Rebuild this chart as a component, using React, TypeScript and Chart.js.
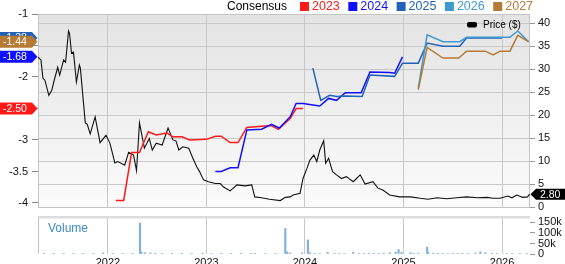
import React, { useEffect, useRef } from 'react';
import { Chart, registerables } from 'chart.js';

Chart.register(...registerables);

const FONT = '"Liberation Sans", Arial, Helvetica, sans-serif';

// ---- axes / ticks ----
const X_MIN = 2021.29;
const X_MAX = 2026.284;
const yearTicks = [2022, 2023, 2024, 2025, 2026];
const epsTicks = [-1, -1.5, -2, -2.5, -3, -3.5, -4];
const EPS_MIN = -4.0635;
const EPS_MAX = -1;
const priceTicks = [0, 5, 10, 15, 20, 25, 30, 35, 40];
const PRICE_MAX = 42;
const volTicks = [0, 50000, 100000, 150000];
const VOL_MAX = 176000;

// ---- price ($) ----
const priceX = [
  2021.29, 2021.32, 2021.34, 2021.36, 2021.40, 2021.43, 2021.45, 2021.49, 2021.51, 2021.55,
  2021.57, 2021.60, 2021.61, 2021.63, 2021.65, 2021.68, 2021.71, 2021.72, 2021.77, 2021.79,
  2021.82, 2021.87, 2021.92, 2021.98, 2022.02, 2022.07, 2022.10, 2022.17, 2022.21, 2022.26,
  2022.29, 2022.32, 2022.37, 2022.42, 2022.45, 2022.49, 2022.55, 2022.61, 2022.66, 2022.69,
  2022.72, 2022.76, 2022.82, 2022.86, 2022.90, 2022.93, 2022.97, 2023.02, 2023.09, 2023.14,
  2023.17, 2023.24, 2023.31, 2023.39, 2023.46, 2023.49, 2023.56, 2023.64, 2023.75, 2023.80,
  2023.85, 2023.88, 2023.95, 2023.98, 2024.02, 2024.05, 2024.09, 2024.12, 2024.15, 2024.19,
  2024.21, 2024.24, 2024.28, 2024.32, 2024.37, 2024.42, 2024.49, 2024.56, 2024.61, 2024.69,
  2024.74, 2024.79, 2024.86, 2024.96, 2025.07, 2025.17, 2025.25, 2025.34, 2025.44, 2025.54,
  2025.64, 2025.75, 2025.85, 2025.91, 2025.98, 2026.06, 2026.10, 2026.15, 2026.21, 2026.26,
  2026.28,
];
const priceY = [
  32.6, 32.0, 28.0, 27.6, 24.3, 25.4, 27.2, 30.4, 28.7, 32.0,
  31.5, 38.3, 37.8, 33.5, 33.7, 27.2, 30.9, 30.2, 18.3, 18.0,
  15.9, 19.6, 14.0, 15.6, 13.9, 9.6, 9.9, 9.1, 11.9, 11.3,
  7.9, 18.3, 12.8, 14.9, 12.4, 13.9, 13.5, 17.2, 14.6, 14.4,
  12.4, 13.1, 12.8, 10.7, 8.8, 7.7, 5.9, 5.5, 5.1, 5.1,
  4.4, 3.5, 4.8, 4.6, 4.8, 2.2, 2.0, 1.7, 1.4, 2.1,
  2.2, 2.6, 3.0, 6.2, 8.4, 10.2, 11.3, 9.9, 12.4, 14.4,
  9.5, 10.6, 7.7, 7.0, 6.2, 6.6, 5.5, 7.0, 5.0, 5.5,
  4.1, 3.7, 2.6, 2.2, 2.2, 1.9, 1.7, 2.0, 1.8, 2.0,
  2.2, 2.0, 2.1, 1.9, 1.9, 2.4, 2.0, 2.6, 2.1, 2.2,
  2.8,
];

// ---- consensus EPS by fiscal year ----
const eps2023X = [2022.08, 2022.16, 2022.24, 2022.32, 2022.41, 2022.49, 2022.60, 2022.66, 2022.75, 2022.83, 2023.00, 2023.09, 2023.15, 2023.24, 2023.32, 2023.41, 2023.56, 2023.66, 2023.73, 2023.85, 2023.91, 2023.98];
const eps2023Y = [-3.96, -3.96, -3.20, -3.20, -2.87, -2.92, -2.89, -2.95, -2.95, -3.00, -2.99, -2.94, -2.94, -3.04, -3.04, -2.80, -2.78, -2.77, -2.83, -2.66, -2.50, -2.50];

const eps2024X = [2023.09, 2023.15, 2023.24, 2023.32, 2023.41, 2023.56, 2023.66, 2023.74, 2023.85, 2023.91, 2023.98, 2024.15, 2024.24, 2024.32, 2024.41, 2024.57, 2024.66, 2024.86, 2024.91, 2024.99];
const eps2024Y = [-3.50, -3.50, -3.44, -3.44, -2.84, -2.83, -2.75, -2.81, -2.63, -2.42, -2.42, -2.46, -2.34, -2.37, -2.25, -2.25, -1.92, -1.93, -1.94, -1.68];

const eps2025X = [2024.08, 2024.16, 2024.25, 2024.32, 2024.41, 2024.58, 2024.66, 2024.91, 2024.99, 2025.15, 2025.24, 2025.40, 2025.57, 2025.64, 2026.00];
const eps2025Y = [-1.86, -2.37, -2.29, -2.31, -2.30, -2.31, -1.97, -1.99, -1.78, -1.78, -1.46, -1.51, -1.51, -1.38, -1.38];

const eps2026X = [2025.15, 2025.24, 2025.40, 2025.57, 2025.64, 2026.08, 2026.16, 2026.27];
const eps2026Y = [-2.17, -1.33, -1.44, -1.44, -1.37, -1.37, -1.27, -1.44];

const eps2027X = [2025.15, 2025.24, 2025.40, 2025.56, 2025.64, 2025.83, 2025.91, 2025.98, 2026.08, 2026.16, 2026.27];
const eps2027Y = [-2.20, -1.53, -1.70, -1.70, -1.59, -1.59, -1.65, -1.59, -1.59, -1.34, -1.44];

// ---- volume ----
const volX = [
  2021.35, 2021.45, 2021.55, 2021.65, 2021.75, 2021.85, 2021.95, 2022.05, 2022.15, 2022.25,
  2022.325, 2022.34, 2022.375, 2022.43, 2022.48, 2022.55, 2022.65, 2022.75, 2022.85, 2022.96,
  2023.05, 2023.15, 2023.25, 2023.35, 2023.45, 2023.49, 2023.60, 2023.70, 2023.80, 2023.82,
  2023.85, 2023.97, 2024.03, 2024.05, 2024.10, 2024.15, 2024.23, 2024.30, 2024.35, 2024.40,
  2024.49, 2024.55, 2024.60, 2024.65, 2024.70, 2024.75, 2024.80, 2024.86, 2024.92, 2024.95,
  2024.98, 2025.07, 2025.10, 2025.15, 2025.24, 2025.25, 2025.30, 2025.35, 2025.40, 2025.45,
  2025.50, 2025.55, 2025.60, 2025.65, 2025.73, 2025.78, 2025.83, 2025.90, 2025.95, 2026.05,
  2026.10, 2026.18, 2026.25,
];
const volY = [
  2500, 2000, 3000, 2000, 2500, 2000, 5000, 2500, 2000, 3000,
  147000, 10000, 6000, 5000, 4000, 2500, 2000, 3000, 2000, 4000,
  2500, 2000, 3000, 2000, 2500, 3000, 2000, 2500, 121000, 10000,
  5000, 5000, 67000, 6000, 3000, 2500, 8000, 3000, 2500, 3000,
  8000, 3000, 2500, 3000, 2500, 3000, 4000, 6000, 9000, 21000,
  8000, 6000, 3000, 4000, 33000, 8000, 3000, 2500, 3000, 2500,
  3000, 2500, 3000, 2500, 5000, 10000, 6000, 3000, 2500, 3000,
  2500, 3000, 2500,
];

const C2023 = '#ff1a1a';
const C2024 = '#1010ff';
const C2025 = '#2262b8';
const C2026 = '#3d9ad0';
const C2027 = '#b57a33';

const legendItems = [
  { label: '2023', color: C2023 },
  { label: '2024', color: C2024 },
  { label: '2025', color: C2025 },
  { label: '2026', color: C2026 },
  { label: '2027', color: C2027 },
];

const pts = (xs: number[], ys: number[]) => xs.map((x, i) => ({ x, y: ys[i] }));
const setTicks = (vals: number[]) => (scale: any) => {
  scale.ticks = vals.map((v) => ({ value: v }));
};

function drawLeftFlag(ctx: CanvasRenderingContext2D, y: number, color: string, text: string) {
  const h = 6;
  ctx.beginPath();
  ctx.moveTo(0, y - h);
  ctx.lineTo(32, y - h);
  ctx.lineTo(37.5, y);
  ctx.lineTo(32, y + h);
  ctx.lineTo(0, y + h);
  ctx.closePath();
  ctx.fillStyle = color;
  ctx.fill();
  ctx.fillStyle = '#fff';
  ctx.font = `10.5px ${FONT}`;
  ctx.textAlign = 'left';
  ctx.textBaseline = 'middle';
  ctx.fillText(text, 3, y + 0.5);
}

export default function App() {
  const mainRef = useRef<HTMLCanvasElement>(null);
  const volRef = useRef<HTMLCanvasElement>(null);

  useEffect(() => {
    Chart.defaults.font.family = FONT;
    const tickFont = { size: 11, family: FONT };

    const mainDeco = {
      id: 'mainDeco',
      beforeDraw(chart: any) {
        const { ctx, chartArea: a } = chart;
        const g = ctx.createLinearGradient(0, a.top, 0, a.bottom);
        g.addColorStop(0, '#e3e3e3');
        g.addColorStop(1, '#fbfbfb');
        ctx.save();
        ctx.fillStyle = g;
        ctx.fillRect(a.left, a.top, a.right - a.left, a.bottom - a.top);
        ctx.restore();
      },
      beforeDatasetsDraw(chart: any) {
        const { ctx, chartArea: a } = chart;
        ctx.save();
        ctx.strokeStyle = '#c4c4c4';
        ctx.lineWidth = 1;
        ctx.strokeRect(a.left + 0.5, a.top + 0.5, a.right - a.left - 1, a.bottom - a.top);
        ctx.restore();
      },
      afterDraw(chart: any) {
        const { ctx } = chart;
        ctx.save();
        // header legend
        ctx.font = `12px ${FONT}`;
        ctx.textBaseline = 'middle';
        ctx.textAlign = 'left';
        ctx.fillStyle = '#000';
        ctx.fillText('Consensus', 227, 7);
        let x = 300;
        legendItems.forEach((it) => {
          ctx.fillStyle = it.color;
          ctx.fillRect(x, 2, 9, 9);
          ctx.font = `12.5px ${FONT}`;
          ctx.fillText(it.label, x + 12, 7);
          x += 12 + ctx.measureText(it.label).width + 8.5;
        });
        // price legend
        ctx.fillStyle = '#000';
        ctx.beginPath();
        (ctx as any).roundRect(467, 22, 10, 5.5, 2);
        ctx.fill();
        ctx.font = `10px ${FONT}`;
        ctx.fillText('Price ($)', 483, 25);

        // left flags (EPS last values)
        const eps = chart.scales.eps;
        const flags = [
          { v: eps2025Y[eps2025Y.length - 1], c: C2025 },
          { v: eps2027Y[eps2027Y.length - 1], c: C2027 },
          { v: eps2024Y[eps2024Y.length - 1], c: C2024 },
          { v: eps2023Y[eps2023Y.length - 1], c: C2023 },
        ];
        flags.forEach((f) => drawLeftFlag(ctx, eps.getPixelForValue(f.v), f.c, f.v.toFixed(2)));

        // right price flag
        const pr = chart.scales.price;
        const last = priceY[priceY.length - 1];
        const y = pr.getPixelForValue(last);
        ctx.beginPath();
        ctx.moveTo(530.5, y);
        ctx.lineTo(536, y - 5.5);
        ctx.lineTo(565, y - 5.5);
        ctx.lineTo(565, y + 5.5);
        ctx.lineTo(536, y + 5.5);
        ctx.closePath();
        ctx.fillStyle = '#000';
        ctx.fill();
        ctx.fillStyle = '#fff';
        ctx.font = `10.5px ${FONT}`;
        ctx.fillText(last.toFixed(2), 540, y + 0.5);
        ctx.restore();
      },
    };

    const lineDs = (label: string, xs: number[], ys: number[], color: string, order: number) => ({
      label,
      data: pts(xs, ys),
      borderColor: color,
      backgroundColor: color,
      borderWidth: 1.5,
      pointRadius: 0,
      tension: 0,
      yAxisID: 'eps',
      xAxisID: 'x',
      order,
    });

    const main = new Chart(mainRef.current as HTMLCanvasElement, {
      type: 'line',
      data: {
        datasets: [
          {
            label: 'Price ($)',
            data: pts(priceX, priceY),
            borderColor: '#111',
            borderWidth: 1.1,
            pointRadius: 0,
            tension: 0,
            yAxisID: 'price',
            xAxisID: 'x',
            order: 6,
          },
          lineDs('2023', eps2023X, eps2023Y, C2023, 5),
          lineDs('2024', eps2024X, eps2024Y, C2024, 4),
          lineDs('2025', eps2025X, eps2025Y, C2025, 3),
          lineDs('2026', eps2026X, eps2026Y, C2026, 2),
          lineDs('2027', eps2027X, eps2027Y, C2027, 1),
        ] as any,
      },
      options: {
        animation: false,
        responsive: false,
        maintainAspectRatio: false,
        layout: { padding: { top: 14, bottom: 57, left: 0, right: 0 } },
        plugins: { legend: { display: false }, tooltip: { enabled: false } },
        scales: {
          x: {
            type: 'linear',
            min: X_MIN,
            max: X_MAX,
            afterBuildTicks: setTicks(yearTicks),
            ticks: { display: false, autoSkip: false },
            grid: { color: '#c8c8c8', drawTicks: false },
            border: { display: false },
            afterFit: (s: any) => { s.height = 0; },
          },
          eps: {
            type: 'linear',
            position: 'left',
            min: EPS_MIN,
            max: EPS_MAX,
            afterBuildTicks: setTicks(epsTicks),
            ticks: {
              font: tickFont,
              color: '#111',
              padding: 4,
              autoSkip: false,
              callback: (v: any) => (v === -1.5 ? '' : String(v)),
            },
            grid: { drawOnChartArea: false, tickLength: 6, tickColor: '#888' },
            border: { display: false },
            afterFit: (s: any) => { s.width = 38; },
          },
          price: {
            type: 'linear',
            position: 'right',
            min: 0,
            max: PRICE_MAX,
            afterBuildTicks: setTicks(priceTicks),
            ticks: { font: tickFont, color: '#111', padding: 3, autoSkip: false, callback: (v: any) => String(v) },
            grid: { color: '#c8c8c8', tickLength: 5, tickColor: '#999' },
            border: { display: false },
            afterFit: (s: any) => { s.width = 35; },
          },
        },
      } as any,
      plugins: [mainDeco],
    });

    const volDeco = {
      id: 'volDeco',
      beforeDatasetsDraw(chart: any) {
        const { ctx, chartArea: a } = chart;
        ctx.save();
        ctx.fillStyle = '#dcdcdc';
        ctx.fillRect(a.left, a.top - 1, a.right - a.left, 2.5);
        ctx.strokeStyle = '#c4c4c4';
        ctx.beginPath();
        ctx.moveTo(a.left + 0.5, a.top);
        ctx.lineTo(a.left + 0.5, a.bottom);
        ctx.stroke();
        ctx.font = `12px ${FONT}`;
        ctx.fillStyle = '#3d8bc9';
        ctx.textBaseline = 'middle';
        ctx.textAlign = 'left';
        ctx.fillText('Volume', 48, 229);
        ctx.restore();
      },
    };

    const vol = new Chart(volRef.current as HTMLCanvasElement, {
      type: 'bar',
      data: {
        datasets: [
          {
            label: 'Volume',
            data: pts(volX, volY),
            backgroundColor: '#7eb2dd',
            barThickness: 1.5,
            borderWidth: 0,
          },
        ] as any,
      },
      options: {
        animation: false,
        responsive: false,
        maintainAspectRatio: false,
        layout: { padding: { top: 217, bottom: 0, left: 38, right: 0 } },
        plugins: { legend: { display: false }, tooltip: { enabled: false } },
        scales: {
          x: {
            type: 'linear',
            min: X_MIN,
            max: X_MAX,
            offset: false,
            afterBuildTicks: setTicks(yearTicks),
            ticks: { font: tickFont, color: '#111', padding: 2, maxRotation: 0, autoSkip: false, callback: (v: any) => String(v) },
            grid: { color: '#c8c8c8', drawTicks: false, offset: false },
            border: { display: false },
            afterFit: (s: any) => { s.height = 10; },
          },
          y: {
            type: 'linear',
            position: 'right',
            min: 0,
            max: VOL_MAX,
            afterBuildTicks: setTicks(volTicks),
            ticks: {
              font: tickFont,
              color: '#111',
              padding: 3,
              autoSkip: false,
              callback: (v: any) => (v === 0 ? '0' : `${v / 1000}k`),
            },
            grid: { drawOnChartArea: false, tickLength: 5, tickColor: '#999' },
            border: { display: false },
            afterFit: (s: any) => { s.width = 35; },
          },
        },
      } as any,
      plugins: [volDeco],
    });

    return () => {
      main.destroy();
      vol.destroy();
    };
  }, []);

  const cStyle: React.CSSProperties = { position: 'absolute', left: 0, top: 0, width: 565, height: 264 };
  return (
    <div style={{ position: 'absolute', left: 0, top: 0, width: 565, height: 264, background: '#fff' }}>
      <canvas ref={volRef} width={565} height={264} style={cStyle} />
      <canvas ref={mainRef} width={565} height={264} style={cStyle} />
    </div>
  );
}
